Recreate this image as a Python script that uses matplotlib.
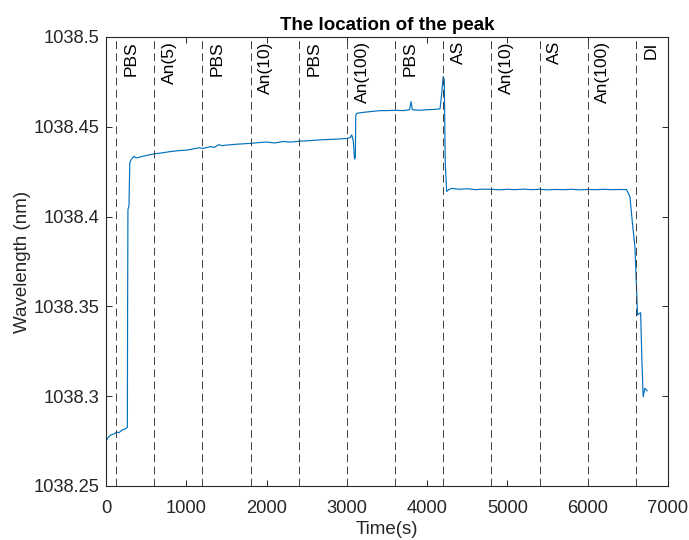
import numpy as np
import matplotlib.pyplot as plt
import matplotlib.transforms as mtransforms

# ------------------------------------------------------------------
# Données
temps = [0, 30, 60, 100, 130, 160, 200, 240, 265,
         268, 272, 285, 295, 315, 345, 375, 410,
         450, 520, 610, 700, 800, 900, 1000, 1100, 1150, 1212, 1300, 1350,
         1400, 1450, 1500, 1600, 1700, 1814, 1900, 2000, 2100, 2200, 2300,
         2416, 2500, 2600, 2700, 2800, 2900, 2997, 3040, 3060, 3080, 3095,
         3105, 3110, 3120, 3200, 3300, 3412, 3500, 3600, 3700, 3780, 3800,
         3815, 3900, 4000, 4100, 4160, 4180, 4200, 4213, 4225, 4243, 4270,
         4305, 4400, 4500, 4600, 4700, 4800, 4900, 5000, 5100, 5200, 5300,
         5400, 5500, 5600, 5700, 5800, 5900, 6000, 6100, 6200, 6300, 6400,
         6484, 6526, 6560, 6588, 6609, 6621, 6640, 6659, 6675, 6691, 6712, 6740]
longueur_onde = [1038.2752, 1038.2772, 1038.2785, 1038.2790, 1038.2800, 1038.2797, 1038.2812, 1038.2818, 1038.2827,
                 1038.3500, 1038.4040, 1038.4060, 1038.4300, 1038.4320, 1038.4335, 1038.4327, 1038.4330,
                 1038.4335, 1038.4342, 1038.4350, 1038.4355, 1038.4362, 1038.4367, 1038.4370, 1038.4378, 1038.4383,
                 1038.4380, 1038.4390, 1038.4385,
                 1038.4400, 1038.4395, 1038.4398, 1038.4402, 1038.4405, 1038.4408, 1038.4412, 1038.4415, 1038.4410,
                 1038.4418, 1038.4415,
                 1038.4420, 1038.4422, 1038.4425, 1038.4428, 1038.4430, 1038.4432, 1038.4435, 1038.4440, 1038.4455,
                 1038.4420, 1038.4320,
                 1038.4330, 1038.4560, 1038.4575, 1038.4580, 1038.4585, 1038.4590, 1038.4590, 1038.4592, 1038.4590,
                 1038.4595, 1038.4640,
                 1038.4595, 1038.4592, 1038.4595, 1038.4597, 1038.4600, 1038.4680, 1038.4780, 1038.4760, 1038.4300,
                 1038.4140, 1038.4150,
                 1038.4157, 1038.4152, 1038.4155, 1038.4150, 1038.4153, 1038.4152, 1038.4149, 1038.4152, 1038.4150,
                 1038.4153, 1038.4150,
                 1038.4152, 1038.4149, 1038.4151, 1038.4150, 1038.4152, 1038.4149, 1038.4151, 1038.4150, 1038.4152,
                 1038.4150, 1038.4151,
                 1038.4150, 1038.4111, 1038.3950, 1038.3832, 1038.3591, 1038.3452, 1038.3460, 1038.3465, 1038.3200,
                 1038.2997, 1038.3044, 1038.3030]

positions_lignes = [120, 600, 1200, 1800, 2400, 3000, 3600, 4200, 4800, 5400, 6000, 6600]
etiquettes = ['PBS', 'An(5)', 'PBS', 'An(10)', 'PBS', 'An(100)', 'PBS', 'AS', 'An(10)', 'AS', 'An(100)', 'DI']

# ------------------------------------------------------------------
# Affichage
plt.rcParams['font.family'] = ['Liberation Sans', 'DejaVu Sans']

fig = plt.figure(figsize=(6.89, 5.40), dpi=100)
ax = fig.add_axes([0.154, 0.10, 0.8155, 0.8315])

gris = '#262626'
ax.plot(temps, longueur_onde, color='#0072BD', linewidth=0.85)

decalage = mtransforms.offset_copy(ax.get_xaxis_transform(), fig=fig, x=5.5, y=-3, units='points')
for x, lab in zip(positions_lignes, etiquettes):
    ax.axvline(x, color='#404040', linestyle=(0, (8, 4.5)), linewidth=0.7)
    ax.text(x, 1.0, lab, rotation=90, ha='left', va='top', fontsize=12.5, color='black', transform=decalage)

ax.set_xlim(0, 7000)
ax.set_ylim(1038.25, 1038.5)
ax.set_xticks(np.arange(0, 7001, 1000))
ax.set_yticks([1038.25, 1038.3, 1038.35, 1038.4, 1038.45, 1038.5])
ax.set_yticklabels(['1038.25', '1038.3', '1038.35', '1038.4', '1038.45', '1038.5'])
ax.tick_params(direction='in', top=True, right=True, length=4, width=0.7, labelsize=13.2, colors=gris, pad=5)
ax.tick_params(axis='x', pad=10)
for s in ax.spines.values():
    s.set_color(gris)
    s.set_linewidth(0.8)

ax.set_title('The location of the peak', fontsize=13.5, fontweight='bold', pad=5)
ax.set_xlabel('Time(s)', fontsize=13.5, color=gris, labelpad=3)
ax.set_ylabel('Wavelength (nm)', fontsize=13.5, color=gris, labelpad=2)

fig.savefig('out.png', dpi=100)
